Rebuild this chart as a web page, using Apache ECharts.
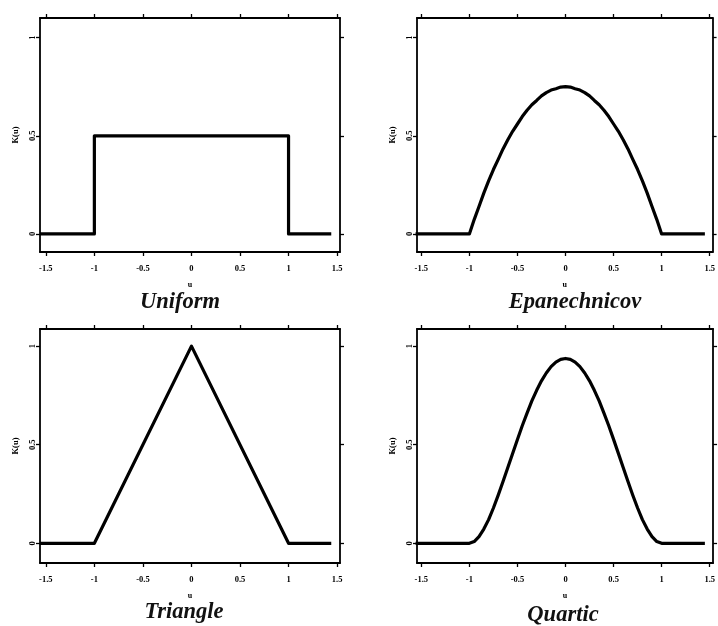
<!DOCTYPE html>
<html>
<head>
<meta charset="utf-8">
<script src="https://cdn.jsdelivr.net/npm/echarts@6/dist/echarts.min.js"></script>
<style>
html,body{margin:0;padding:0;background:#fff;}
#chart{width:718px;height:626px;}
</style>
</head>
<body>
<div id="chart"></div>
<script>
// ---- data ----
const titles = ["Uniform", "Epanechnicov", "Triangle", "Quartic"];
const xTickValues = [-1.5, -1, -0.5, 0, 0.5, 1, 1.5];
const xTickLabels = ["-1.5", "-1", "-0.5", "0", "0.5", "1", "1.5"];
const yTickValues = [0, 0.5, 1];
const yTickLabels = ["0", "0.5", "1"];
const yName = "K(u)";
const xName = "u";

const uniformX = [-1.56, -1, -1, 1, 1, 1.44];
const uniformY = [0, 0, 0.5, 0.5, 0, 0];

const epanX = [-1.56, -1, -0.95, -0.9, -0.85, -0.8, -0.75, -0.7, -0.65, -0.6, -0.55, -0.5, -0.45, -0.4, -0.35, -0.3, -0.25, -0.2, -0.15, -0.1, -0.05, 0,
  0.05, 0.1, 0.15, 0.2, 0.25, 0.3, 0.35, 0.4, 0.45, 0.5, 0.55, 0.6, 0.65, 0.7, 0.75, 0.8, 0.85, 0.9, 0.95, 1, 1.45];
const epanY = [0, 0, 0.073, 0.14, 0.208, 0.27, 0.328, 0.38, 0.433, 0.48, 0.523, 0.56, 0.598, 0.63, 0.658, 0.68, 0.703, 0.72, 0.733, 0.74, 0.748, 0.75,
  0.748, 0.74, 0.733, 0.72, 0.703, 0.68, 0.658, 0.63, 0.598, 0.56, 0.523, 0.48, 0.433, 0.38, 0.328, 0.27, 0.208, 0.14, 0.073, 0, 0];

const triX = [-1.56, -1, 0, 1, 1.44];
const triY = [0, 0, 1, 0, 0];

const quartX = [-1.56, -1, -0.95, -0.9, -0.85, -0.8, -0.75, -0.7, -0.65, -0.6, -0.55, -0.5, -0.45, -0.4, -0.35, -0.3, -0.25, -0.2, -0.15, -0.1, -0.05, 0,
  0.05, 0.1, 0.15, 0.2, 0.25, 0.3, 0.35, 0.4, 0.45, 0.5, 0.55, 0.6, 0.65, 0.7, 0.75, 0.8, 0.85, 0.9, 0.95, 1, 1.45];
const quartY = [0, 0, 0.009, 0.034, 0.072, 0.12, 0.179, 0.244, 0.313, 0.384, 0.456, 0.527, 0.596, 0.66, 0.722, 0.776, 0.824, 0.864, 0.896, 0.919, 0.933, 0.9375,
  0.933, 0.919, 0.896, 0.864, 0.824, 0.776, 0.722, 0.66, 0.596, 0.527, 0.456, 0.384, 0.313, 0.244, 0.179, 0.12, 0.072, 0.034, 0.009, 0, 0];

const seriesX = [uniformX, epanX, triX, quartX];
const seriesY = [uniformY, epanY, triY, quartY];

// ---- layout ----
const grids = [
  {left: 40, top: 18, width: 300, height: 234},
  {left: 417, top: 18, width: 298, height: 234},
  {left: 40, top: 329, width: 300, height: 234},
  {left: 417, top: 329, width: 299, height: 234}
];
const xRanges = [[-1.56, 1.53], [-1.545, 1.53], [-1.56, 1.53], [-1.545, 1.535]];
const yRanges = [[-0.092, 1.1], [-0.092, 1.1], [-0.10, 1.087], [-0.10, 1.087]];
const titlePos = [[180, 302], [575, 302], [184, 612], [563, 615]];

const lineStyle = {color: '#000', width: 1.8};
const tickStyle = {color: '#000', width: 1.3};
const labelFont = {fontFamily: 'Liberation Serif', fontWeight: 'bold', fontSize: 8.5, color: '#000'};

const xAxes = [], yAxes = [], series = [], graphics = [];
grids.forEach((g, i) => {
  xAxes.push({
    type: 'value', gridIndex: i, position: 'bottom',
    min: xRanges[i][0], max: xRanges[i][1],
    name: xName, nameLocation: 'middle', nameGap: 29,
    nameTextStyle: {fontFamily: 'Liberation Serif', fontWeight: 'bold', fontSize: 8, color: '#000'},
    axisLine: {show: true, onZero: false, lineStyle: lineStyle},
    axisTick: {show: true, inside: false, length: 4, lineStyle: tickStyle, customValues: xTickValues},
    axisLabel: Object.assign({show: true, margin: 12, customValues: xTickValues,
      formatter: v => { const k = xTickValues.indexOf(v); return k >= 0 ? xTickLabels[k] : ''; }}, labelFont),
    splitLine: {show: false}
  });
  xAxes.push({
    type: 'value', gridIndex: i, position: 'top',
    min: xRanges[i][0], max: xRanges[i][1],
    axisLine: {show: true, onZero: false, lineStyle: lineStyle},
    axisTick: {show: true, inside: false, length: 4, lineStyle: tickStyle, customValues: xTickValues},
    axisLabel: {show: false},
    splitLine: {show: false}
  });
  yAxes.push({
    type: 'value', gridIndex: i, position: 'left',
    min: yRanges[i][0], max: yRanges[i][1],
    name: yName, nameLocation: 'middle', nameGap: 20, nameRotate: 90,
    nameTextStyle: {fontFamily: 'Liberation Serif', fontWeight: 'bold', fontSize: 8.5, color: '#000'},
    axisLine: {show: true, onZero: false, lineStyle: lineStyle},
    axisTick: {show: true, inside: false, length: 4, lineStyle: tickStyle, customValues: yTickValues},
    axisLabel: Object.assign({show: true, margin: 3, rotate: 90, customValues: yTickValues,
      formatter: v => { const k = yTickValues.indexOf(v); return k >= 0 ? yTickLabels[k] : ''; }}, labelFont),
    splitLine: {show: false}
  });
  yAxes.push({
    type: 'value', gridIndex: i, position: 'right',
    min: yRanges[i][0], max: yRanges[i][1],
    axisLine: {show: true, onZero: false, lineStyle: lineStyle},
    axisTick: {show: true, inside: false, length: 4, lineStyle: tickStyle, customValues: yTickValues},
    axisLabel: {show: false},
    splitLine: {show: false}
  });
  series.push({
    type: 'line', xAxisIndex: 2 * i, yAxisIndex: 2 * i,
    data: seriesX[i].map((x, k) => [x, seriesY[i][k]]),
    showSymbol: false, symbol: 'none', clip: true,
    lineStyle: {color: '#000', width: 3.2, join: 'round'},
    animation: false
  });
  graphics.push({
    type: 'text', x: titlePos[i][0], y: titlePos[i][1],
    style: {text: titles[i], align: 'center', verticalAlign: 'middle',
      font: 'italic bold 22.5px "Liberation Serif"', fill: '#111'}
  });
});

const chart = echarts.init(document.getElementById('chart'), null, {renderer: 'canvas'});
chart.setOption({
  backgroundColor: '#fff',
  animation: false,
  grid: grids.map(g => Object.assign({containLabel: false}, g)),
  xAxis: xAxes,
  yAxis: yAxes,
  series: series,
  graphic: graphics
});
</script>
</body>
</html>
